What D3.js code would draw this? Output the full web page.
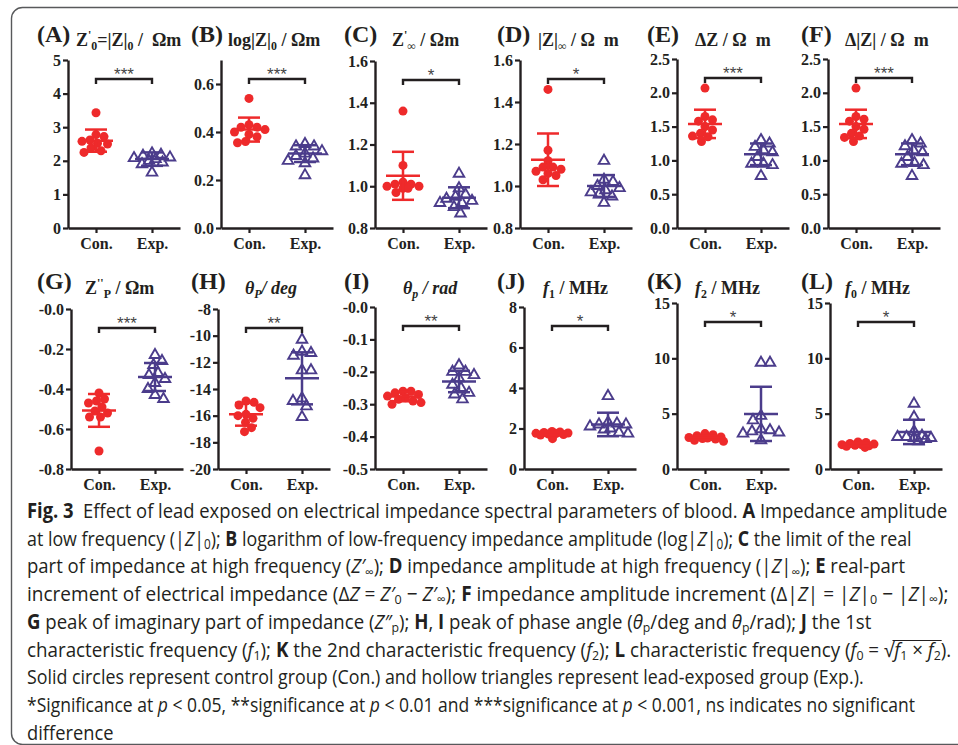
<!DOCTYPE html>
<html>
<head>
<meta charset="utf-8">
<script src="https://cdn.jsdelivr.net/npm/d3@7"></script>
<style>
body { margin: 0; background: #fff; }
svg { display: block; }
</style>
</head>
<body>
<script>
var width = 958;
var height = 745;

// ---- data ----
var panels = ["A", "B", "C", "D", "E", "F", "G", "H", "I", "J", "K", "L"];
var groups = ["Con.", "Exp."];

var domains = [[0, 5], [0, 0.7], [0.8, 1.6], [0.8, 1.6], [0, 2.5], [0, 2.5],
               [-0.8, 0], [-20, -8], [-0.5, 0], [0, 8], [0, 15], [0, 15]];

var tickValues = [
    [0, 1, 2, 3, 4, 5], [0, 0.2, 0.4, 0.6], [0.8, 1, 1.2, 1.4, 1.6], [0.8, 1, 1.2, 1.4, 1.6],
    [0, 0.5, 1, 1.5, 2, 2.5], [0, 0.5, 1, 1.5, 2, 2.5],
    [-0.8, -0.6, -0.4, -0.2, 0], [-20, -18, -16, -14, -12, -10, -8], [-0.5, -0.4, -0.3, -0.2, -0.1, 0],
    [0, 2, 4, 6, 8], [0, 5, 10, 15], [0, 5, 10, 15]
];
var tickLabels = [
    ["0", "1", "2", "3", "4", "5"], ["0.0", "0.2", "0.4", "0.6"],
    ["0.8", "1.0", "1.2", "1.4", "1.6"], ["0.8", "1.0", "1.2", "1.4", "1.6"],
    ["0.0", "0.5", "1.0", "1.5", "2.0", "2.5"], ["0.0", "0.5", "1.0", "1.5", "2.0", "2.5"],
    ["-0.8", "-0.6", "-0.4", "-0.2", "-0.0"], ["-20", "-18", "-16", "-14", "-12", "-10", "-8"],
    ["-0.5", "-0.4", "-0.3", "-0.2", "-0.1", "-0.0"], ["0", "2", "4", "6", "8"],
    ["0", "5", "10", "15"], ["0", "5", "10", "15"]
];

var conValues = [
    [3.43, 2.78, 2.72, 2.62, 2.58, 2.52, 2.5, 2.38, 2.3, 2.25],
    [0.54, 0.43, 0.42, 0.42, 0.41, 0.40, 0.39, 0.38, 0.36, 0.355],
    [1.36, 1.10, 1.02, 1.01, 1.01, 1.00, 1.00, 0.99, 0.99, 0.97],
    [1.46, 1.17, 1.12, 1.09, 1.09, 1.08, 1.07, 1.06, 1.05, 1.03],
    [2.07, 1.65, 1.60, 1.58, 1.50, 1.45, 1.40, 1.36, 1.35, 1.28],
    [2.07, 1.65, 1.61, 1.58, 1.50, 1.46, 1.40, 1.36, 1.34, 1.28],
    [-0.42, -0.45, -0.46, -0.47, -0.49, -0.51, -0.52, -0.54, -0.54, -0.71],
    [-14.9, -15.0, -15.2, -15.4, -15.9, -16.0, -16.2, -16.5, -16.9, -17.2],
    [-0.26, -0.26, -0.265, -0.27, -0.275, -0.28, -0.285, -0.29, -0.295, -0.30],
    [1.85, 1.83, 1.80, 1.78, 1.76, 1.75, 1.72, 1.70, 1.68, 1.50],
    [3.2, 3.1, 3.0, 2.9, 2.85, 2.8, 2.75, 2.7, 2.6, 2.5],
    [2.45, 2.4, 2.3, 2.25, 2.2, 2.2, 2.15, 2.1, 2.05, 1.95]
];
var expValues = [
    [2.22, 2.18, 2.15, 2.10, 2.08, 2.05, 2.00, 1.95, 1.90, 1.65],
    [0.35, 0.34, 0.34, 0.32, 0.31, 0.30, 0.29, 0.28, 0.27, 0.22],
    [1.06, 0.99, 0.96, 0.95, 0.94, 0.93, 0.92, 0.92, 0.90, 0.87],
    [1.12, 1.03, 1.02, 1.00, 0.99, 0.98, 0.97, 0.96, 0.95, 0.92],
    [1.30, 1.25, 1.20, 1.15, 1.12, 1.05, 0.95, 0.95, 0.93, 0.77],
    [1.30, 1.25, 1.21, 1.15, 1.12, 1.05, 0.96, 0.95, 0.93, 0.77],
    [-0.23, -0.26, -0.28, -0.32, -0.33, -0.35, -0.37, -0.40, -0.43, -0.45],
    [-10.3, -11.2, -11.3, -11.5, -12.6, -12.6, -14.7, -14.9, -15.3, -16.1],
    [-0.18, -0.20, -0.20, -0.21, -0.22, -0.24, -0.25, -0.265, -0.27, -0.285],
    [3.6, 2.3, 2.25, 2.2, 2.2, 2.1, 2.0, 1.95, 1.8, 1.75],
    [9.6, 9.6, 4.8, 4.4, 3.6, 3.5, 3.4, 3.3, 3.2, 2.6],
    [5.9, 4.7, 3.4, 3.0, 2.9, 2.9, 2.8, 2.8, 2.7, 2.5]
];

var conMean = [2.60, 0.41, 1.05, 1.125, 1.54, 1.54, -0.507, -15.9, -0.276, 1.77, 2.84, 2.22];
var conSd   = [0.33, 0.05, 0.115, 0.125, 0.21, 0.21, 0.082, 0.85, 0.015, 0.10, 0.20, 0.15];
var expMean = [2.05, 0.31, 0.945, 1.0, 1.09, 1.09, -0.34, -13.2, -0.23, 2.2, 4.98, 3.35];
var expSd   = [0.20, 0.035, 0.05, 0.052, 0.16, 0.16, 0.07, 1.95, 0.033, 0.58, 2.45, 1.1];

var stars = ["***", "***", "*", "*", "***", "***", "***", "**", "**", "*", "*", "*"];

// title pieces: [text, style]
var titles = [
    [["Z"], ["'", "sup"], ["0", "sub"], ["=|Z|"], ["0", "sub"], [" /  Ωm"]],
    [["log|Z|"], ["0", "sub"], [" / Ωm"]],
    [["Z"], ["'", "sup"], ["∞", "sub"], [" / Ωm"]],
    [["|Z|"], ["∞", "sub"], [" / Ω  m"]],
    [["ΔZ / Ω  m"]],
    [["Δ|Z| / Ω  m"]],
    [["Z"], ["''", "sup"], ["P", "sub"], [" / Ωm"]],
    [["θ", "i"], ["P", "i sub"], ["/ deg", "i"]],
    [["θ", "i"], ["p", "i sub"], [" / rad", "i"]],
    [["f", "i"], ["1", "sub"], [" / MHz"]],
    [["f", "i"], ["2", "sub"], [" / MHz"]],
    [["f", "i"], ["0", "sub"], [" / MHz"]]
];

var caption = [
    [["Fig. 3", "b"], ["  Effect of lead exposed on electrical impedance spectral parameters of blood. "], ["A", "b"], [" Impedance amplitude"]],
    [["at low frequency (|"], ["Z", "i"], ["|"], ["0", "sub"], ["); "], ["B", "b"], [" logarithm of low-frequency impedance amplitude (log|"], ["Z", "i"], ["|"], ["0", "sub"], ["); "], ["C", "b"], [" the limit of the real"]],
    [["part of impedance at high frequency ("], ["Z′", "i"], ["∞", "sub"], ["); "], ["D", "b"], [" impedance amplitude at high frequency (|"], ["Z", "i"], ["|"], ["∞", "sub"], ["); "], ["E", "b"], [" real-part"]],
    [["increment of electrical impedance (Δ"], ["Z", "i"], [" = "], ["Z′", "i"], ["0", "sub"], [" − "], ["Z′", "i"], ["∞", "sub"], ["); "], ["F", "b"], [" impedance amplitude increment (Δ|"], ["Z", "i"], ["| = |"], ["Z", "i"], ["|"], ["0", "sub"], [" − |"], ["Z", "i"], ["|"], ["∞", "sub"], [");"]],
    [["G", "b"], [" peak of imaginary part of impedance ("], ["Z″", "i"], ["p", "sub"], ["); "], ["H", "b"], [", "], ["I", "b"], [" peak of phase angle ("], ["θ", "i"], ["p", "sub"], ["/deg and "], ["θ", "i"], ["p", "sub"], ["/rad); "], ["J", "b"], [" the 1st"]],
    [["characteristic frequency ("], ["f", "i"], ["1", "sub"], ["); "], ["K", "b"], [" the 2nd characteristic frequency ("], ["f", "i"], ["2", "sub"], ["); "], ["L", "b"], [" characteristic frequency ("], ["f", "i"], ["0", "sub"], [" = √"], ["f", "i ov"], ["1", "sub ov"], [" × ", "ov"], ["f", "i ov"], ["2", "sub ov"], [")."]],
    [["Solid circles represent control group (Con.) and hollow triangles represent lead-exposed group (Exp.)."]],
    [["*Significance at "], ["p", "i"], [" < 0.05, **significance at "], ["p", "i"], [" < 0.01 and ***significance at "], ["p", "i"], [" < 0.001, ns indicates no significant"]],
    [["difference"]]
];

// ---- layout ----
var red = "#ee2a2b", purple = "#4b3c8b", ink = "#231f20";
var serif = "'Liberation Serif', 'Times New Roman', serif";
var axisX = [68, 221, 375, 520, 677, 828, 71, 218, 375, 524, 677, 830];
var axisTop = [60, 60, 61, 60, 59, 59, 309, 309, 307, 307, 303, 303];
var rowBottom = [228, 469];
var labelX = [37, 191, 344, 497, 647, 801];
var titleX = [76, 228, 392, 538, 695, 845, 85, 245, 403, 543, 695, 845];
var rowLabelY = [42, 289];
var rowTitleY = [46, 294];
var plotW = 112;
var capLeft = 27, capTop = 518, capStep = 27.7, capSize = 20.5;
var capRight = [948, 912, 906, 949, 872, 952, 864, 916, 0];

var svg = d3.select("body").append("svg")
    .attr("width", width)
    .attr("height", height);

// frame
svg.append("rect")
    .attr("x", 11.5).attr("y", 7.5)
    .attr("width", 1000).attr("height", 737)
    .attr("rx", 11)
    .attr("fill", "none")
    .attr("stroke", "#58595b")
    .attr("stroke-width", 1.4);

function rich(sel, parts, size, subShift) {
    var shift = 0;
    parts.forEach(function (p) {
        var st = (p[1] || "").split(" ");
        var target = st.indexOf("sub") >= 0 ? size * subShift : (st.indexOf("sup") >= 0 ? -size * 0.38 : 0);
        var ts = sel.append("tspan").text(p[0]).attr("dy", target - shift);
        shift = target;
        if (target !== 0) ts.style("font-size", (size * 0.66) + "px");
        if (st.indexOf("i") >= 0) ts.style("font-style", "italic");
        if (st.indexOf("b") >= 0) ts.style("font-weight", "bold");
        if (st.indexOf("ov") >= 0) ts.classed("ov", true);
    });
}

// scatter dot plot layout: spread overlapping points sideways, within a max width
function swarm(ys, d, maxOff) {
    var placed = [];
    var xs = new Array(ys.length);
    var order = d3.range(ys.length).sort(function (a, b) { return ys[a] - ys[b]; });
    order.forEach(function (i) {
        var right = placed.filter(function (p) { return p.x > 0; }).length;
        var left = placed.filter(function (p) { return p.x < 0; }).length;
        var sign = right > left ? -1 : 1;
        var dd = d, found = null;
        while (found === null) {
            for (var k = 0; k * 0.5 <= maxOff && found === null; k++) {
                var cands = k === 0 ? [0] : [sign * k * 0.5, -sign * k * 0.5];
                for (var c = 0; c < cands.length; c++) {
                    var cx = cands[c];
                    var hit = placed.some(function (p) {
                        var dx = p.x - cx, dy = p.y - ys[i];
                        return dx * dx + dy * dy < dd * dd;
                    });
                    if (!hit) { found = cx; break; }
                }
            }
            dd *= 0.85;
        }
        xs[i] = found;
        placed.push({x: found, y: ys[i]});
    });
    return xs;
}

panels.forEach(function (letter, i) {
    var row = Math.floor(i / 6), col = i % 6;
    var x0 = axisX[i];
    var y = d3.scaleLinear().domain(domains[i]).range([rowBottom[row], axisTop[i]]);
    var x = d3.scalePoint().domain(groups).range([x0, x0 + plotW]).padding(0.5);

    var g = svg.append("g").attr("class", "panel");

    // panel letter and title
    g.append("text")
        .attr("x", labelX[col]).attr("y", rowLabelY[row])
        .style("font-family", serif).style("font-weight", "bold").style("font-size", "24px")
        .attr("fill", ink)
        .text("(" + letter + ")");
    var tt = g.append("text")
        .attr("x", titleX[i]).attr("y", rowTitleY[row])
        .style("font-family", serif).style("font-weight", "bold").style("font-size", "18px")
        .style("white-space", "pre")
        .attr("fill", ink);
    rich(tt, titles[i], 18, 0.22);

    // axes
    var yAxis = g.append("g")
        .attr("transform", "translate(" + x0 + ",0)")
        .call(d3.axisLeft(y)
            .tickValues(tickValues[i])
            .tickFormat(function (d) { return tickLabels[i][tickValues[i].indexOf(d)]; })
            .tickSize(5).tickSizeOuter(0).tickPadding(2));
    var xAxis = g.append("g")
        .attr("transform", "translate(0," + rowBottom[row] + ")")
        .call(d3.axisBottom(x).tickSize(5).tickSizeOuter(0).tickPadding(5));
    [yAxis, xAxis].forEach(function (a) {
        a.select(".domain").attr("stroke", ink).attr("stroke-width", 2.4);
        a.selectAll(".tick line").attr("stroke", ink).attr("stroke-width", 2.2);
        a.selectAll(".tick text")
            .attr("fill", ink)
            .style("font-family", serif).style("font-weight", "bold").style("font-size", "16px");
    });

    // points
    var yc = conValues[i].map(y), ye = expValues[i].map(y);
    var xc = swarm(yc, 8, 19), xe = swarm(ye, 9, 20);
    g.selectAll(".con").data(conValues[i]).enter().append("circle")
        .attr("class", "con")
        .attr("cx", function (d, j) { return x("Con.") + xc[j]; })
        .attr("cy", function (d) { return y(d); })
        .attr("r", 4.5)
        .attr("fill", red);
    g.selectAll(".exp").data(expValues[i]).enter().append("path")
        .attr("class", "exp")
        .attr("d", d3.symbol(d3.symbolTriangle, 48))
        .attr("transform", function (d, j) { return "translate(" + (x("Exp.") + xe[j]) + "," + y(d) + ")"; })
        .attr("fill", "none")
        .attr("stroke", purple)
        .attr("stroke-width", 1.9);

    // mean and SD bars
    function bar(cx, m, s, color) {
        var b = g.append("g").attr("stroke", color).attr("stroke-width", 2.5);
        b.append("line").attr("x1", cx).attr("x2", cx).attr("y1", y(m + s)).attr("y2", y(m - s));
        b.append("line").attr("x1", cx - 17).attr("x2", cx + 17).attr("y1", y(m)).attr("y2", y(m));
        [m + s, m - s].forEach(function (v) {
            b.append("line").attr("x1", cx - 11).attr("x2", cx + 11).attr("y1", y(v)).attr("y2", y(v));
        });
    }
    bar(x("Con."), conMean[i], conSd[i], red);
    bar(x("Exp."), expMean[i], expSd[i], purple);

    // significance bracket
    var by = axisTop[i] + 19;
    g.append("path")
        .attr("d", "M" + x("Con.") + "," + (by + 5) + "V" + by + "H" + x("Exp.") + "V" + (by + 5))
        .attr("fill", "none")
        .attr("stroke", ink)
        .attr("stroke-width", 2.4);
    g.append("text")
        .attr("x", (x("Con.") + x("Exp.")) / 2)
        .attr("y", by + 1)
        .attr("text-anchor", "middle")
        .style("font-family", "'Liberation Sans', Arial, sans-serif")
        .style("font-size", "17px")
        .attr("fill", "#444")
        .text(stars[i]);
});

// caption
var scales = [];
var capLines = caption.map(function (parts, k) {
    var lg = svg.append("g");
    var t = lg.append("text")
        .attr("x", 0).attr("y", 0)
        .style("font-family", "'Open Sans', 'Noto Sans', sans-serif")
        .style("font-size", capSize + "px")
        .style("white-space", "pre")
        .attr("fill", ink);
    rich(t, parts, capSize, 0.16);
    var w = t.node().getComputedTextLength();
    if (capRight[k]) scales.push((capRight[k] - capLeft) / w);
    return {g: lg, t: t, w: w};
});
var avgScale = d3.mean(scales);
capLines.forEach(function (c, k) {
    var sx = capRight[k] ? (capRight[k] - capLeft) / c.w : avgScale;
    c.g.attr("transform", "translate(" + capLeft + "," + (capTop + k * capStep) + ") scale(" + sx + ",1)");
    var ov = c.t.selectAll("tspan.ov").nodes();
    if (ov.length) {
        var last = ov[ov.length - 1];
        var xa = ov[0].getStartPositionOfChar(0).x;
        var xb = last.getEndPositionOfChar(last.getNumberOfChars() - 1).x;
        c.g.append("line")
            .attr("x1", xa - 2).attr("x2", xb + 1)
            .attr("y1", -capSize * 0.78).attr("y2", -capSize * 0.78)
            .attr("stroke", ink).attr("stroke-width", 1.1);
    }
});
</script>
</body>
</html>
